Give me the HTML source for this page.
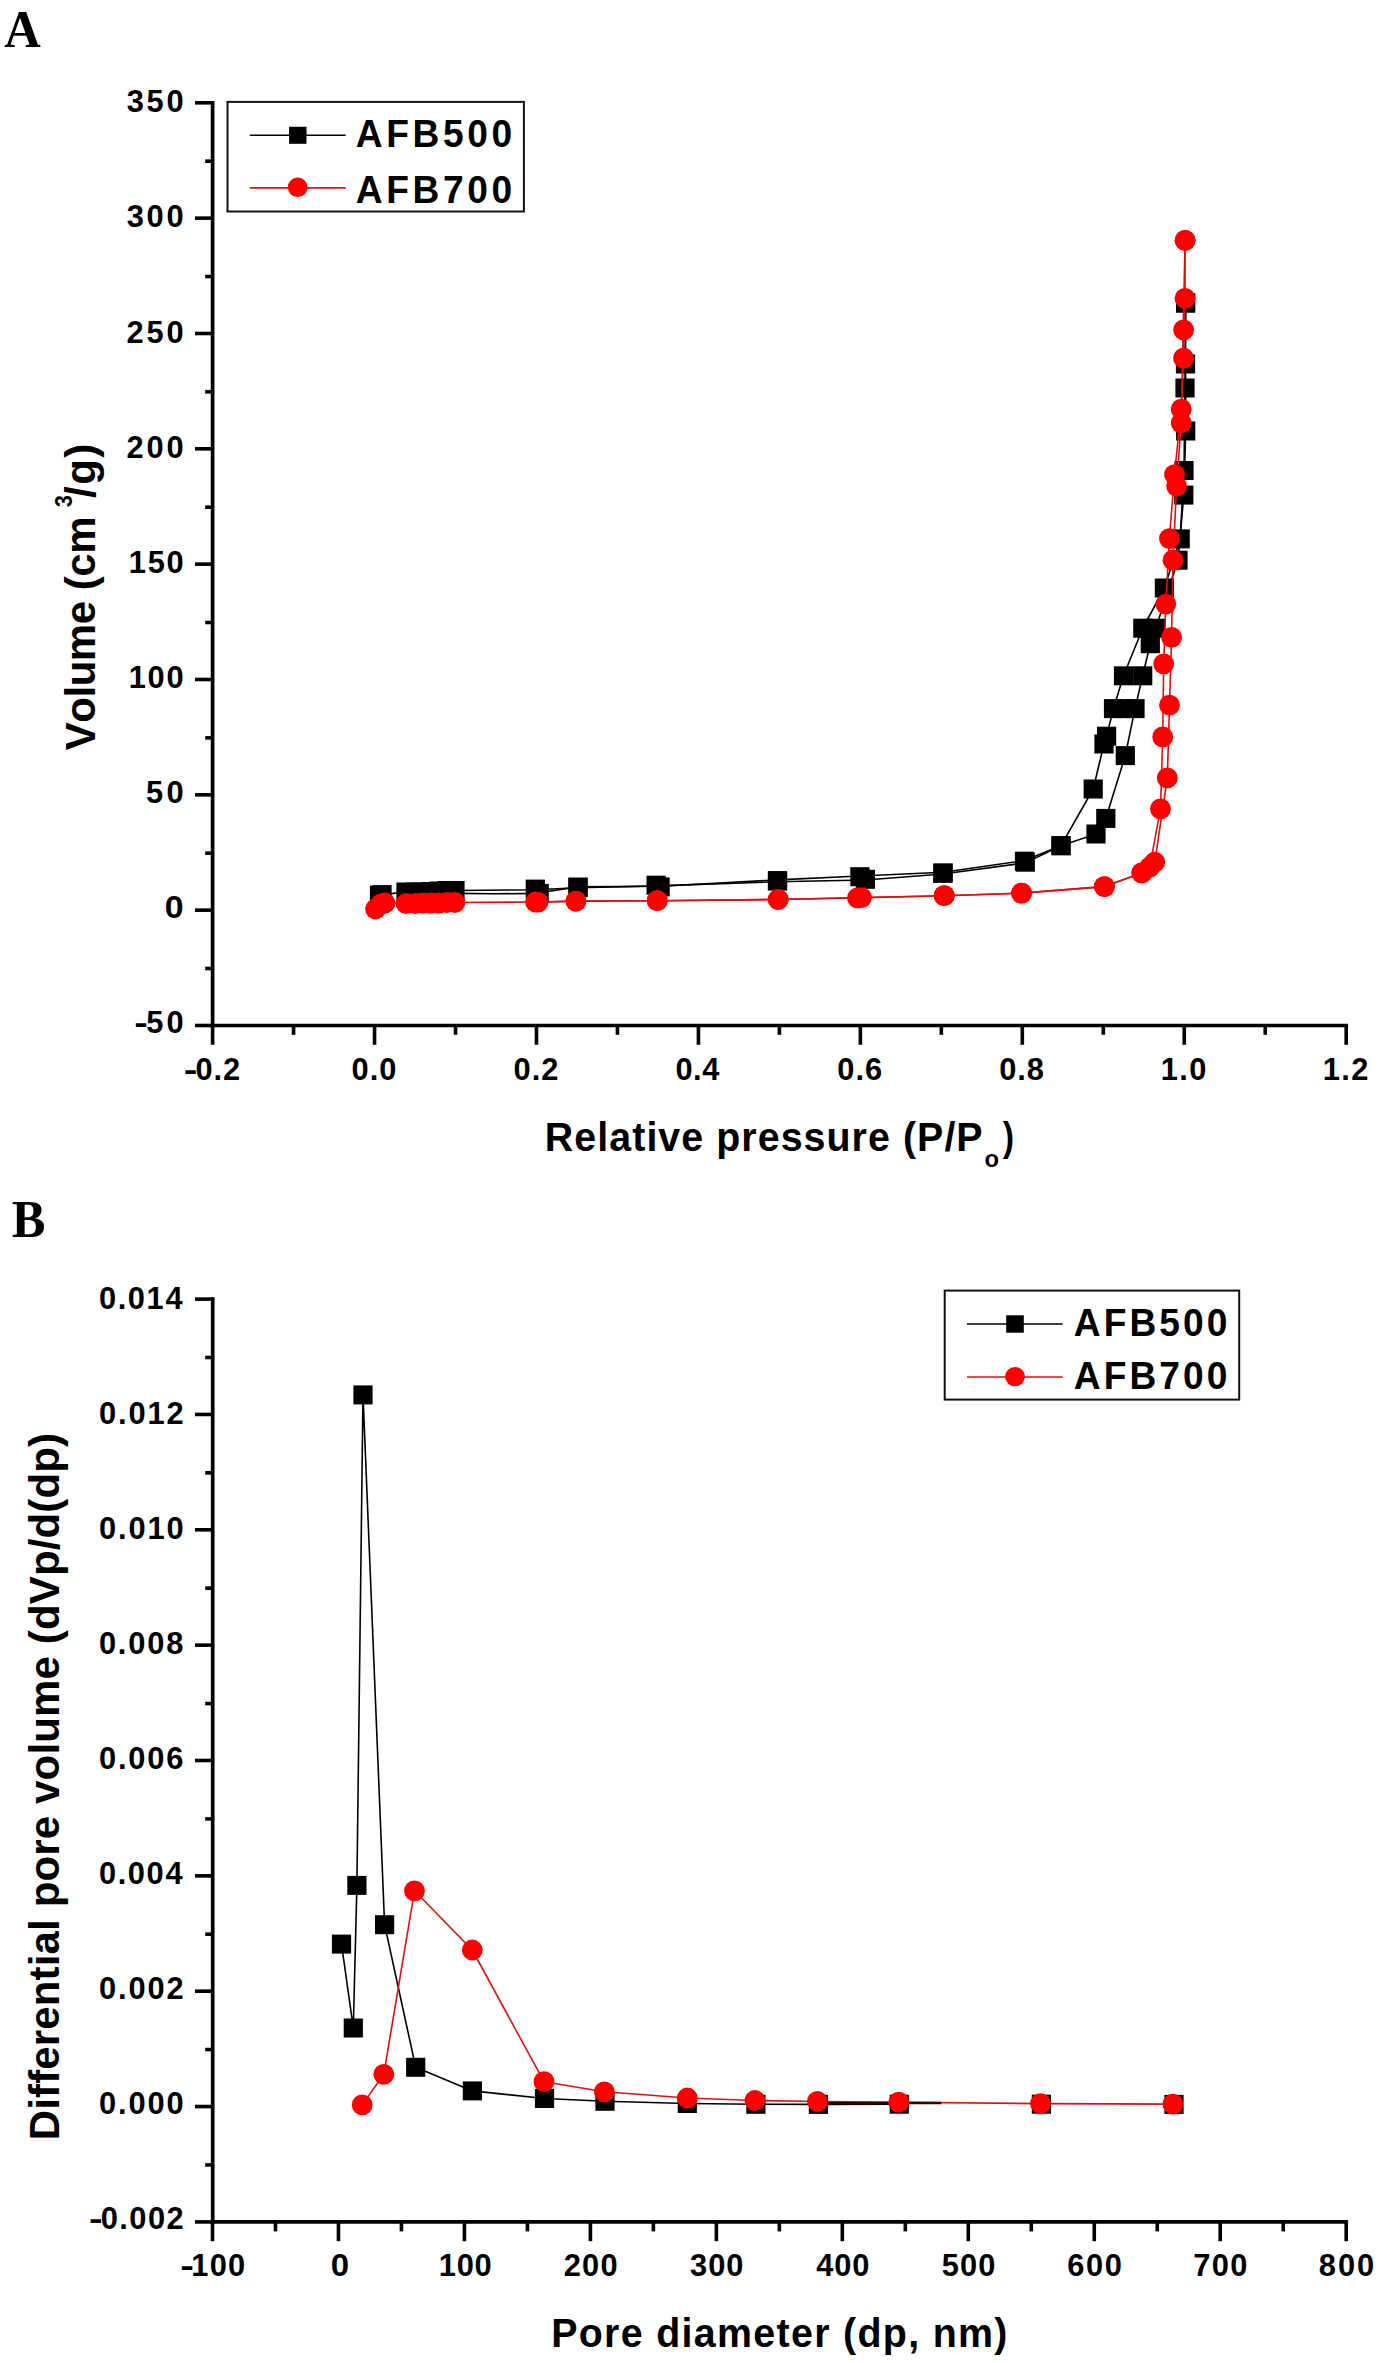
<!DOCTYPE html>
<html><head><meta charset="utf-8"><title>Figure</title>
<style>
html,body{margin:0;padding:0;background:#fff;overflow:hidden;}
svg{display:block;}
text{font-kerning:none;white-space:pre;}
</style></head>
<body>
<svg width="1389" height="2363" viewBox="0 0 1389 2363" font-family="Liberation Sans, sans-serif">
<rect x="0" y="0" width="1389" height="2363" fill="#fff"/>
<line x1="212.60" y1="100.95" x2="212.60" y2="1027.35" stroke="#000" stroke-width="3.7" stroke-linecap="butt"/>
<line x1="210.75" y1="1025.50" x2="1348.05" y2="1025.50" stroke="#000" stroke-width="3.7" stroke-linecap="butt"/>
<line x1="195.00" y1="102.80" x2="212.60" y2="102.80" stroke="#000" stroke-width="3.6" stroke-linecap="butt"/>
<line x1="205.20" y1="161.17" x2="212.60" y2="161.17" stroke="#000" stroke-width="3.6" stroke-linecap="butt"/>
<line x1="195.00" y1="218.14" x2="212.60" y2="218.14" stroke="#000" stroke-width="3.6" stroke-linecap="butt"/>
<line x1="205.20" y1="276.51" x2="212.60" y2="276.51" stroke="#000" stroke-width="3.6" stroke-linecap="butt"/>
<line x1="195.00" y1="333.48" x2="212.60" y2="333.48" stroke="#000" stroke-width="3.6" stroke-linecap="butt"/>
<line x1="205.20" y1="391.84" x2="212.60" y2="391.84" stroke="#000" stroke-width="3.6" stroke-linecap="butt"/>
<line x1="195.00" y1="448.81" x2="212.60" y2="448.81" stroke="#000" stroke-width="3.6" stroke-linecap="butt"/>
<line x1="205.20" y1="507.18" x2="212.60" y2="507.18" stroke="#000" stroke-width="3.6" stroke-linecap="butt"/>
<line x1="195.00" y1="564.15" x2="212.60" y2="564.15" stroke="#000" stroke-width="3.6" stroke-linecap="butt"/>
<line x1="205.20" y1="622.52" x2="212.60" y2="622.52" stroke="#000" stroke-width="3.6" stroke-linecap="butt"/>
<line x1="195.00" y1="679.49" x2="212.60" y2="679.49" stroke="#000" stroke-width="3.6" stroke-linecap="butt"/>
<line x1="205.20" y1="737.86" x2="212.60" y2="737.86" stroke="#000" stroke-width="3.6" stroke-linecap="butt"/>
<line x1="195.00" y1="794.83" x2="212.60" y2="794.83" stroke="#000" stroke-width="3.6" stroke-linecap="butt"/>
<line x1="205.20" y1="853.19" x2="212.60" y2="853.19" stroke="#000" stroke-width="3.6" stroke-linecap="butt"/>
<line x1="195.00" y1="910.16" x2="212.60" y2="910.16" stroke="#000" stroke-width="3.6" stroke-linecap="butt"/>
<line x1="205.20" y1="968.53" x2="212.60" y2="968.53" stroke="#000" stroke-width="3.6" stroke-linecap="butt"/>
<line x1="195.00" y1="1025.50" x2="212.60" y2="1025.50" stroke="#000" stroke-width="3.6" stroke-linecap="butt"/>
<line x1="212.60" y1="1025.50" x2="212.60" y2="1044.80" stroke="#000" stroke-width="3.6" stroke-linecap="butt"/>
<line x1="293.57" y1="1025.50" x2="293.57" y2="1034.80" stroke="#000" stroke-width="3.6" stroke-linecap="butt"/>
<line x1="374.54" y1="1025.50" x2="374.54" y2="1044.80" stroke="#000" stroke-width="3.6" stroke-linecap="butt"/>
<line x1="455.51" y1="1025.50" x2="455.51" y2="1034.80" stroke="#000" stroke-width="3.6" stroke-linecap="butt"/>
<line x1="536.49" y1="1025.50" x2="536.49" y2="1044.80" stroke="#000" stroke-width="3.6" stroke-linecap="butt"/>
<line x1="617.46" y1="1025.50" x2="617.46" y2="1034.80" stroke="#000" stroke-width="3.6" stroke-linecap="butt"/>
<line x1="698.43" y1="1025.50" x2="698.43" y2="1044.80" stroke="#000" stroke-width="3.6" stroke-linecap="butt"/>
<line x1="779.40" y1="1025.50" x2="779.40" y2="1034.80" stroke="#000" stroke-width="3.6" stroke-linecap="butt"/>
<line x1="860.37" y1="1025.50" x2="860.37" y2="1044.80" stroke="#000" stroke-width="3.6" stroke-linecap="butt"/>
<line x1="941.34" y1="1025.50" x2="941.34" y2="1034.80" stroke="#000" stroke-width="3.6" stroke-linecap="butt"/>
<line x1="1022.31" y1="1025.50" x2="1022.31" y2="1044.80" stroke="#000" stroke-width="3.6" stroke-linecap="butt"/>
<line x1="1103.29" y1="1025.50" x2="1103.29" y2="1034.80" stroke="#000" stroke-width="3.6" stroke-linecap="butt"/>
<line x1="1184.26" y1="1025.50" x2="1184.26" y2="1044.80" stroke="#000" stroke-width="3.6" stroke-linecap="butt"/>
<line x1="1265.23" y1="1025.50" x2="1265.23" y2="1034.80" stroke="#000" stroke-width="3.6" stroke-linecap="butt"/>
<line x1="1346.20" y1="1025.50" x2="1346.20" y2="1044.80" stroke="#000" stroke-width="3.6" stroke-linecap="butt"/>
<text transform="translate(126.79,112.30) scale(0.9700,1)" font-family="Liberation Sans" font-weight="bold" font-size="31.8" letter-spacing="2.736" fill="#000">350</text>
<text transform="translate(126.79,227.40) scale(0.9700,1)" font-family="Liberation Sans" font-weight="bold" font-size="31.8" letter-spacing="2.736" fill="#000">300</text>
<text transform="translate(126.53,342.50) scale(0.9700,1)" font-family="Liberation Sans" font-weight="bold" font-size="31.8" letter-spacing="2.871" fill="#000">250</text>
<text transform="translate(126.53,457.60) scale(0.9700,1)" font-family="Liberation Sans" font-weight="bold" font-size="31.8" letter-spacing="2.871" fill="#000">200</text>
<text transform="translate(128.86,572.70) scale(0.9700,1)" font-family="Liberation Sans" font-weight="bold" font-size="31.8" letter-spacing="1.672" fill="#000">150</text>
<text transform="translate(128.66,687.80) scale(0.9700,1)" font-family="Liberation Sans" font-weight="bold" font-size="31.8" letter-spacing="1.775" fill="#000">100</text>
<text transform="translate(145.95,802.90) scale(0.9700,1)" font-family="Liberation Sans" font-weight="bold" font-size="31.8" letter-spacing="3.406" fill="#000">50</text>
<text transform="translate(164.86,918.00) scale(1.0646,1)" font-family="Liberation Sans" font-weight="bold" font-size="31.8" letter-spacing="0.000" fill="#000">0</text>
<text transform="translate(134.20,1033.10) scale(1.2881,1)" font-family="Liberation Sans" font-weight="bold" font-size="31.8" letter-spacing="0.000" fill="#000">-</text>
<text transform="translate(146.25,1033.10) scale(0.9700,1)" font-family="Liberation Sans" font-weight="bold" font-size="31.8" letter-spacing="3.097" fill="#000">50</text>
<text transform="translate(183.70,1080.30) scale(1.2881,1)" font-family="Liberation Sans" font-weight="bold" font-size="31.8" letter-spacing="0.000" fill="#000">-</text>
<text transform="translate(195.48,1080.30) scale(0.9700,1)" font-family="Liberation Sans" font-weight="bold" font-size="31.8" letter-spacing="0.915" fill="#000">0.2</text>
<text transform="translate(351.52,1080.30) scale(0.9700,1)" font-family="Liberation Sans" font-weight="bold" font-size="31.8" letter-spacing="1.085" fill="#000">0.0</text>
<text transform="translate(513.47,1080.30) scale(0.9700,1)" font-family="Liberation Sans" font-weight="bold" font-size="31.8" letter-spacing="1.070" fill="#000">0.2</text>
<text transform="translate(675.41,1080.30) scale(0.9700,1)" font-family="Liberation Sans" font-weight="bold" font-size="31.8" letter-spacing="0.518" fill="#000">0.4</text>
<text transform="translate(837.35,1080.30) scale(0.9700,1)" font-family="Liberation Sans" font-weight="bold" font-size="31.8" letter-spacing="1.007" fill="#000">0.6</text>
<text transform="translate(999.29,1080.30) scale(0.9700,1)" font-family="Liberation Sans" font-weight="bold" font-size="31.8" letter-spacing="0.922" fill="#000">0.8</text>
<text transform="translate(1160.71,1080.30) scale(0.9700,1)" font-family="Liberation Sans" font-weight="bold" font-size="31.8" letter-spacing="1.509" fill="#000">1.0</text>
<text transform="translate(1322.66,1080.30) scale(0.9700,1)" font-family="Liberation Sans" font-weight="bold" font-size="31.8" letter-spacing="1.494" fill="#000">1.2</text>
<text transform="translate(544.87,1150.90) scale(0.9700,1)" font-family="Liberation Sans" font-weight="bold" font-size="40.6" letter-spacing="1.079" fill="#000">Relative pressure (P/P</text>
<text transform="translate(984.47,1167.20) scale(0.9933,1)" font-family="Liberation Sans" font-weight="bold" font-size="24" letter-spacing="0.000" fill="#000">o</text>
<text transform="translate(1002.67,1150.90) scale(0.8378,1)" font-family="Liberation Sans" font-weight="bold" font-size="40.6" letter-spacing="0.000" fill="#000">)</text>
<text transform="translate(95.40,749.90) rotate(-90) translate(-0.29,0) scale(0.9800,1)" font-family="Liberation Sans" font-weight="bold" font-size="42.8" letter-spacing="-0.459" fill="#000">Volume (cm</text>
<text transform="translate(72.00,506.60) rotate(-90) translate(-0.49,0) scale(0.8885,1)" font-family="Liberation Sans" font-weight="bold" font-size="24" letter-spacing="0.000" fill="#000">3</text>
<text transform="translate(95.40,497.60) rotate(-90) translate(-0.41,0) scale(0.9800,1)" font-family="Liberation Sans" font-weight="bold" font-size="42.8" letter-spacing="1.559" fill="#000">/g)</text>
<text transform="translate(4.26,47.10) scale(0.9631,1)" font-family="Liberation Serif" font-weight="bold" font-size="52.5" letter-spacing="0.000" fill="#000">A</text>
<rect x="227.5" y="101.9" width="296.4" height="109.6" fill="#fff" stroke="#111" stroke-width="2.0"/>
<line x1="249.80" y1="135.30" x2="345.60" y2="135.30" stroke="#000" stroke-width="1.6" stroke-linecap="butt"/>
<line x1="249.80" y1="187.90" x2="345.60" y2="187.90" stroke="#e01010" stroke-width="1.6" stroke-linecap="butt"/>
<rect x="289.1" y="126.8" width="17.4" height="17.0" fill="#000"/>
<ellipse cx="297.7" cy="187.3" rx="9.9" ry="9.7" fill="#fe0000"/>
<text transform="translate(355.78,147.30) scale(0.9400,1)" font-family="Liberation Sans" font-weight="bold" font-size="39.5" letter-spacing="3.849" fill="#000">AFB500</text>
<text transform="translate(355.78,202.60) scale(0.9400,1)" font-family="Liberation Sans" font-weight="bold" font-size="39.5" letter-spacing="3.849" fill="#000">AFB700</text>
<polyline points="379.5,895.2 382.0,894.6 406.0,892.0 415.0,892.0 423.0,892.0 431.0,891.5 439.0,891.0 447.0,890.5 455.0,890.5 535.3,889.8 578.0,887.7 656.1,885.9 777.5,881.8 865.4,880.0 942.8,874.0 1025.3,862.9 1061.0,845.7 1096.0,834.0 1105.8,818.4 1125.3,755.6 1135.0,708.6 1142.7,675.8 1150.3,643.7 1155.8,628.2 1178.0,560.2 1183.8,495.1 1185.7,431.0 1185.5,364.0 1185.6,303.0" fill="none" stroke="#000" stroke-width="1.6" stroke-linejoin="round"/>
<polyline points="1185.6,303.0 1185.0,388.0 1184.0,470.5 1180.2,538.9 1164.4,588.0 1142.8,628.2 1123.5,675.8 1113.5,708.6 1106.6,736.2 1104.0,744.0 1093.2,789.0 1061.0,845.7 1024.5,860.5 943.2,872.2 859.9,876.0 777.5,879.9 660.1,886.2 578.0,886.9 539.2,892.7" fill="none" stroke="#000" stroke-width="1.6" stroke-linejoin="round"/>
<polyline points="539.2,893.4 494.0,893.8 455.0,893.4" fill="none" stroke="#000" stroke-width="1.6" stroke-linejoin="round"/>
<rect x="369.9" y="885.7" width="19.2" height="19.0" fill="#000"/>
<rect x="372.4" y="885.1" width="19.2" height="19.0" fill="#000"/>
<rect x="396.4" y="882.5" width="19.2" height="19.0" fill="#000"/>
<rect x="405.4" y="882.5" width="19.2" height="19.0" fill="#000"/>
<rect x="413.4" y="882.5" width="19.2" height="19.0" fill="#000"/>
<rect x="421.4" y="882.0" width="19.2" height="19.0" fill="#000"/>
<rect x="429.4" y="881.5" width="19.2" height="19.0" fill="#000"/>
<rect x="437.4" y="881.0" width="19.2" height="19.0" fill="#000"/>
<rect x="445.4" y="881.0" width="19.2" height="19.0" fill="#000"/>
<rect x="525.7" y="879.6" width="19.2" height="19.0" fill="#000"/>
<rect x="568.4" y="877.5" width="19.2" height="19.0" fill="#000"/>
<rect x="646.5" y="875.7" width="19.2" height="19.0" fill="#000"/>
<rect x="767.9" y="871.6" width="19.2" height="19.0" fill="#000"/>
<rect x="855.8" y="869.8" width="19.2" height="19.0" fill="#000"/>
<rect x="933.2" y="863.8" width="19.2" height="19.0" fill="#000"/>
<rect x="1015.7" y="852.7" width="19.2" height="19.0" fill="#000"/>
<rect x="1051.4" y="836.2" width="19.2" height="19.0" fill="#000"/>
<rect x="1086.4" y="824.5" width="19.2" height="19.0" fill="#000"/>
<rect x="1096.2" y="808.9" width="19.2" height="19.0" fill="#000"/>
<rect x="1115.7" y="746.1" width="19.2" height="19.0" fill="#000"/>
<rect x="1125.4" y="699.1" width="19.2" height="19.0" fill="#000"/>
<rect x="1133.1" y="666.3" width="19.2" height="19.0" fill="#000"/>
<rect x="1140.7" y="634.2" width="19.2" height="19.0" fill="#000"/>
<rect x="1146.2" y="618.7" width="19.2" height="19.0" fill="#000"/>
<rect x="1168.4" y="550.7" width="19.2" height="19.0" fill="#000"/>
<rect x="1174.2" y="485.6" width="19.2" height="19.0" fill="#000"/>
<rect x="1176.1" y="421.5" width="19.2" height="19.0" fill="#000"/>
<rect x="1175.9" y="354.5" width="19.2" height="19.0" fill="#000"/>
<rect x="1176.0" y="293.5" width="19.2" height="19.0" fill="#000"/>
<rect x="1176.0" y="293.5" width="19.2" height="19.0" fill="#000"/>
<rect x="1175.4" y="378.5" width="19.2" height="19.0" fill="#000"/>
<rect x="1174.4" y="461.0" width="19.2" height="19.0" fill="#000"/>
<rect x="1170.6" y="529.4" width="19.2" height="19.0" fill="#000"/>
<rect x="1154.8" y="578.5" width="19.2" height="19.0" fill="#000"/>
<rect x="1133.2" y="618.7" width="19.2" height="19.0" fill="#000"/>
<rect x="1113.9" y="666.3" width="19.2" height="19.0" fill="#000"/>
<rect x="1103.9" y="699.1" width="19.2" height="19.0" fill="#000"/>
<rect x="1097.0" y="726.7" width="19.2" height="19.0" fill="#000"/>
<rect x="1094.4" y="734.5" width="19.2" height="19.0" fill="#000"/>
<rect x="1083.6" y="779.5" width="19.2" height="19.0" fill="#000"/>
<rect x="1051.4" y="836.2" width="19.2" height="19.0" fill="#000"/>
<rect x="1014.9" y="851.7" width="19.2" height="19.0" fill="#000"/>
<rect x="933.6" y="863.4" width="19.2" height="19.0" fill="#000"/>
<rect x="850.3" y="867.2" width="19.2" height="19.0" fill="#000"/>
<rect x="767.9" y="871.1" width="19.2" height="19.0" fill="#000"/>
<rect x="650.5" y="877.4" width="19.2" height="19.0" fill="#000"/>
<rect x="568.4" y="878.1" width="19.2" height="19.0" fill="#000"/>
<rect x="529.6" y="883.9" width="19.2" height="19.0" fill="#000"/>
<rect x="1114.7" y="699.1" width="19.2" height="19.0" fill="#000"/>
<polyline points="375.5,909.0 381.0,904.0 385.0,903.0 406.0,903.5 415.0,903.5 423.0,903.0 431.0,903.0 439.0,903.0 447.0,902.5 455.0,902.5 535.5,902.0 575.9,901.1 657.2,900.7 778.2,899.5 857.5,897.8 944.2,895.7 1021.6,893.1 1104.4,886.6 1141.8,872.9 1154.8,862.1 1167.3,777.9 1169.5,705.2 1171.6,637.3 1173.0,560.2 1176.6,486.1 1181.2,422.8 1185.1,240.3" fill="none" stroke="#e01010" stroke-width="1.6" stroke-linejoin="round"/>
<polyline points="1185.1,240.3 1185.0,298.4 1183.6,329.8 1183.5,358.2 1181.2,409.2 1174.5,474.6 1169.4,538.6 1165.8,604.1 1163.7,663.9 1162.7,736.9 1160.5,808.9 1149.7,867.2 1141.8,872.9 1104.4,886.6 1021.6,893.1 944.2,895.7 861.5,897.6 778.2,899.5 657.2,900.7 575.9,901.1 538.0,902.2" fill="none" stroke="#e01010" stroke-width="1.6" stroke-linejoin="round"/>
<ellipse cx="375.5" cy="909.0" rx="10.4" ry="10.4" fill="#fe0000"/>
<ellipse cx="381.0" cy="904.0" rx="10.4" ry="10.4" fill="#fe0000"/>
<ellipse cx="385.0" cy="903.0" rx="10.4" ry="10.4" fill="#fe0000"/>
<ellipse cx="406.0" cy="903.5" rx="10.4" ry="10.4" fill="#fe0000"/>
<ellipse cx="415.0" cy="903.5" rx="10.4" ry="10.4" fill="#fe0000"/>
<ellipse cx="423.0" cy="903.0" rx="10.4" ry="10.4" fill="#fe0000"/>
<ellipse cx="431.0" cy="903.0" rx="10.4" ry="10.4" fill="#fe0000"/>
<ellipse cx="439.0" cy="903.0" rx="10.4" ry="10.4" fill="#fe0000"/>
<ellipse cx="447.0" cy="902.5" rx="10.4" ry="10.4" fill="#fe0000"/>
<ellipse cx="455.0" cy="902.5" rx="10.4" ry="10.4" fill="#fe0000"/>
<ellipse cx="535.5" cy="902.0" rx="10.4" ry="10.4" fill="#fe0000"/>
<ellipse cx="575.9" cy="901.1" rx="10.4" ry="10.4" fill="#fe0000"/>
<ellipse cx="657.2" cy="900.7" rx="10.4" ry="10.4" fill="#fe0000"/>
<ellipse cx="778.2" cy="899.5" rx="10.4" ry="10.4" fill="#fe0000"/>
<ellipse cx="857.5" cy="897.8" rx="10.4" ry="10.4" fill="#fe0000"/>
<ellipse cx="944.2" cy="895.7" rx="10.4" ry="10.4" fill="#fe0000"/>
<ellipse cx="1021.6" cy="893.1" rx="10.4" ry="10.4" fill="#fe0000"/>
<ellipse cx="1104.4" cy="886.6" rx="10.4" ry="10.4" fill="#fe0000"/>
<ellipse cx="1141.8" cy="872.9" rx="10.4" ry="10.4" fill="#fe0000"/>
<ellipse cx="1154.8" cy="862.1" rx="10.4" ry="10.4" fill="#fe0000"/>
<ellipse cx="1167.3" cy="777.9" rx="10.4" ry="10.4" fill="#fe0000"/>
<ellipse cx="1169.5" cy="705.2" rx="10.4" ry="10.4" fill="#fe0000"/>
<ellipse cx="1171.6" cy="637.3" rx="10.4" ry="10.4" fill="#fe0000"/>
<ellipse cx="1173.0" cy="560.2" rx="10.4" ry="10.4" fill="#fe0000"/>
<ellipse cx="1176.6" cy="486.1" rx="10.4" ry="10.4" fill="#fe0000"/>
<ellipse cx="1181.2" cy="422.8" rx="10.4" ry="10.4" fill="#fe0000"/>
<ellipse cx="1185.1" cy="240.3" rx="10.4" ry="10.4" fill="#fe0000"/>
<ellipse cx="1185.1" cy="240.3" rx="10.4" ry="10.4" fill="#fe0000"/>
<ellipse cx="1185.0" cy="298.4" rx="10.4" ry="10.4" fill="#fe0000"/>
<ellipse cx="1183.6" cy="329.8" rx="10.4" ry="10.4" fill="#fe0000"/>
<ellipse cx="1183.5" cy="358.2" rx="10.4" ry="10.4" fill="#fe0000"/>
<ellipse cx="1181.2" cy="409.2" rx="10.4" ry="10.4" fill="#fe0000"/>
<ellipse cx="1174.5" cy="474.6" rx="10.4" ry="10.4" fill="#fe0000"/>
<ellipse cx="1169.4" cy="538.6" rx="10.4" ry="10.4" fill="#fe0000"/>
<ellipse cx="1165.8" cy="604.1" rx="10.4" ry="10.4" fill="#fe0000"/>
<ellipse cx="1163.7" cy="663.9" rx="10.4" ry="10.4" fill="#fe0000"/>
<ellipse cx="1162.7" cy="736.9" rx="10.4" ry="10.4" fill="#fe0000"/>
<ellipse cx="1160.5" cy="808.9" rx="10.4" ry="10.4" fill="#fe0000"/>
<ellipse cx="1149.7" cy="867.2" rx="10.4" ry="10.4" fill="#fe0000"/>
<ellipse cx="1141.8" cy="872.9" rx="10.4" ry="10.4" fill="#fe0000"/>
<ellipse cx="1104.4" cy="886.6" rx="10.4" ry="10.4" fill="#fe0000"/>
<ellipse cx="1021.6" cy="893.1" rx="10.4" ry="10.4" fill="#fe0000"/>
<ellipse cx="944.2" cy="895.7" rx="10.4" ry="10.4" fill="#fe0000"/>
<ellipse cx="861.5" cy="897.6" rx="10.4" ry="10.4" fill="#fe0000"/>
<ellipse cx="778.2" cy="899.5" rx="10.4" ry="10.4" fill="#fe0000"/>
<ellipse cx="657.2" cy="900.7" rx="10.4" ry="10.4" fill="#fe0000"/>
<ellipse cx="575.9" cy="901.1" rx="10.4" ry="10.4" fill="#fe0000"/>
<ellipse cx="538.0" cy="902.2" rx="10.4" ry="10.4" fill="#fe0000"/>
<line x1="212.70" y1="1297.25" x2="212.70" y2="2223.75" stroke="#000" stroke-width="3.7" stroke-linecap="butt"/>
<line x1="210.85" y1="2221.90" x2="1348.05" y2="2221.90" stroke="#000" stroke-width="3.7" stroke-linecap="butt"/>
<line x1="195.00" y1="1299.10" x2="212.70" y2="1299.10" stroke="#000" stroke-width="3.6" stroke-linecap="butt"/>
<line x1="205.20" y1="1357.47" x2="212.70" y2="1357.47" stroke="#000" stroke-width="3.6" stroke-linecap="butt"/>
<line x1="195.00" y1="1414.45" x2="212.70" y2="1414.45" stroke="#000" stroke-width="3.6" stroke-linecap="butt"/>
<line x1="205.20" y1="1472.82" x2="212.70" y2="1472.82" stroke="#000" stroke-width="3.6" stroke-linecap="butt"/>
<line x1="195.00" y1="1529.80" x2="212.70" y2="1529.80" stroke="#000" stroke-width="3.6" stroke-linecap="butt"/>
<line x1="205.20" y1="1588.17" x2="212.70" y2="1588.17" stroke="#000" stroke-width="3.6" stroke-linecap="butt"/>
<line x1="195.00" y1="1645.15" x2="212.70" y2="1645.15" stroke="#000" stroke-width="3.6" stroke-linecap="butt"/>
<line x1="205.20" y1="1703.53" x2="212.70" y2="1703.53" stroke="#000" stroke-width="3.6" stroke-linecap="butt"/>
<line x1="195.00" y1="1760.50" x2="212.70" y2="1760.50" stroke="#000" stroke-width="3.6" stroke-linecap="butt"/>
<line x1="205.20" y1="1818.88" x2="212.70" y2="1818.88" stroke="#000" stroke-width="3.6" stroke-linecap="butt"/>
<line x1="195.00" y1="1875.85" x2="212.70" y2="1875.85" stroke="#000" stroke-width="3.6" stroke-linecap="butt"/>
<line x1="205.20" y1="1934.22" x2="212.70" y2="1934.22" stroke="#000" stroke-width="3.6" stroke-linecap="butt"/>
<line x1="195.00" y1="1991.20" x2="212.70" y2="1991.20" stroke="#000" stroke-width="3.6" stroke-linecap="butt"/>
<line x1="205.20" y1="2049.57" x2="212.70" y2="2049.57" stroke="#000" stroke-width="3.6" stroke-linecap="butt"/>
<line x1="195.00" y1="2106.55" x2="212.70" y2="2106.55" stroke="#000" stroke-width="3.6" stroke-linecap="butt"/>
<line x1="205.20" y1="2164.93" x2="212.70" y2="2164.93" stroke="#000" stroke-width="3.6" stroke-linecap="butt"/>
<line x1="195.00" y1="2221.90" x2="212.70" y2="2221.90" stroke="#000" stroke-width="3.6" stroke-linecap="butt"/>
<line x1="212.50" y1="2221.90" x2="212.50" y2="2241.20" stroke="#000" stroke-width="3.6" stroke-linecap="butt"/>
<line x1="275.48" y1="2221.90" x2="275.48" y2="2231.40" stroke="#000" stroke-width="3.6" stroke-linecap="butt"/>
<line x1="338.47" y1="2221.90" x2="338.47" y2="2241.20" stroke="#000" stroke-width="3.6" stroke-linecap="butt"/>
<line x1="401.45" y1="2221.90" x2="401.45" y2="2231.40" stroke="#000" stroke-width="3.6" stroke-linecap="butt"/>
<line x1="464.43" y1="2221.90" x2="464.43" y2="2241.20" stroke="#000" stroke-width="3.6" stroke-linecap="butt"/>
<line x1="527.42" y1="2221.90" x2="527.42" y2="2231.40" stroke="#000" stroke-width="3.6" stroke-linecap="butt"/>
<line x1="590.40" y1="2221.90" x2="590.40" y2="2241.20" stroke="#000" stroke-width="3.6" stroke-linecap="butt"/>
<line x1="653.38" y1="2221.90" x2="653.38" y2="2231.40" stroke="#000" stroke-width="3.6" stroke-linecap="butt"/>
<line x1="716.37" y1="2221.90" x2="716.37" y2="2241.20" stroke="#000" stroke-width="3.6" stroke-linecap="butt"/>
<line x1="779.35" y1="2221.90" x2="779.35" y2="2231.40" stroke="#000" stroke-width="3.6" stroke-linecap="butt"/>
<line x1="842.33" y1="2221.90" x2="842.33" y2="2241.20" stroke="#000" stroke-width="3.6" stroke-linecap="butt"/>
<line x1="905.32" y1="2221.90" x2="905.32" y2="2231.40" stroke="#000" stroke-width="3.6" stroke-linecap="butt"/>
<line x1="968.30" y1="2221.90" x2="968.30" y2="2241.20" stroke="#000" stroke-width="3.6" stroke-linecap="butt"/>
<line x1="1031.28" y1="2221.90" x2="1031.28" y2="2231.40" stroke="#000" stroke-width="3.6" stroke-linecap="butt"/>
<line x1="1094.27" y1="2221.90" x2="1094.27" y2="2241.20" stroke="#000" stroke-width="3.6" stroke-linecap="butt"/>
<line x1="1157.25" y1="2221.90" x2="1157.25" y2="2231.40" stroke="#000" stroke-width="3.6" stroke-linecap="butt"/>
<line x1="1220.23" y1="2221.90" x2="1220.23" y2="2241.20" stroke="#000" stroke-width="3.6" stroke-linecap="butt"/>
<line x1="1283.22" y1="2221.90" x2="1283.22" y2="2231.40" stroke="#000" stroke-width="3.6" stroke-linecap="butt"/>
<line x1="1346.20" y1="2221.90" x2="1346.20" y2="2241.20" stroke="#000" stroke-width="3.6" stroke-linecap="butt"/>
<text transform="translate(98.88,1308.80) scale(0.9700,1)" font-family="Liberation Sans" font-weight="bold" font-size="31.8" letter-spacing="1.674" fill="#000">0.014</text>
<text transform="translate(98.88,1423.84) scale(0.9700,1)" font-family="Liberation Sans" font-weight="bold" font-size="31.8" letter-spacing="1.950" fill="#000">0.012</text>
<text transform="translate(98.88,1538.88) scale(0.9700,1)" font-family="Liberation Sans" font-weight="bold" font-size="31.8" letter-spacing="1.957" fill="#000">0.010</text>
<text transform="translate(98.88,1653.92) scale(0.9700,1)" font-family="Liberation Sans" font-weight="bold" font-size="31.8" letter-spacing="1.876" fill="#000">0.008</text>
<text transform="translate(98.88,1768.96) scale(0.9700,1)" font-family="Liberation Sans" font-weight="bold" font-size="31.8" letter-spacing="1.919" fill="#000">0.006</text>
<text transform="translate(98.88,1884.00) scale(0.9700,1)" font-family="Liberation Sans" font-weight="bold" font-size="31.8" letter-spacing="1.674" fill="#000">0.004</text>
<text transform="translate(98.88,1999.04) scale(0.9700,1)" font-family="Liberation Sans" font-weight="bold" font-size="31.8" letter-spacing="1.950" fill="#000">0.002</text>
<text transform="translate(98.88,2114.08) scale(0.9700,1)" font-family="Liberation Sans" font-weight="bold" font-size="31.8" letter-spacing="1.957" fill="#000">0.000</text>
<text transform="translate(89.00,2229.12) scale(1.2881,1)" font-family="Liberation Sans" font-weight="bold" font-size="31.8" letter-spacing="0.000" fill="#000">-</text>
<text transform="translate(100.78,2229.12) scale(0.9700,1)" font-family="Liberation Sans" font-weight="bold" font-size="31.8" letter-spacing="1.460" fill="#000">0.002</text>
<text transform="translate(180.20,2276.40) scale(1.2881,1)" font-family="Liberation Sans" font-weight="bold" font-size="31.8" letter-spacing="0.000" fill="#000">-</text>
<text transform="translate(191.26,2276.40) scale(0.9700,1)" font-family="Liberation Sans" font-weight="bold" font-size="31.8" letter-spacing="1.311" fill="#000">100</text>
<text transform="translate(330.79,2276.40) scale(1.0381,1)" font-family="Liberation Sans" font-weight="bold" font-size="31.8" letter-spacing="0.000" fill="#000">0</text>
<text transform="translate(438.86,2276.40) scale(0.9700,1)" font-family="Liberation Sans" font-weight="bold" font-size="31.8" letter-spacing="0.641" fill="#000">100</text>
<text transform="translate(563.73,2276.40) scale(0.9700,1)" font-family="Liberation Sans" font-weight="bold" font-size="31.8" letter-spacing="1.221" fill="#000">200</text>
<text transform="translate(690.06,2276.40) scale(0.9700,1)" font-family="Liberation Sans" font-weight="bold" font-size="31.8" letter-spacing="1.035" fill="#000">300</text>
<text transform="translate(816.27,2276.40) scale(0.9700,1)" font-family="Liberation Sans" font-weight="bold" font-size="31.8" letter-spacing="0.911" fill="#000">400</text>
<text transform="translate(941.75,2276.40) scale(0.9700,1)" font-family="Liberation Sans" font-weight="bold" font-size="31.8" letter-spacing="1.159" fill="#000">500</text>
<text transform="translate(1067.14,2276.40) scale(0.9700,1)" font-family="Liberation Sans" font-weight="bold" font-size="31.8" letter-spacing="1.768" fill="#000">600</text>
<text transform="translate(1193.31,2276.40) scale(0.9700,1)" font-family="Liberation Sans" font-weight="bold" font-size="31.8" letter-spacing="1.353" fill="#000">700</text>
<text transform="translate(1318.82,2276.40) scale(0.9700,1)" font-family="Liberation Sans" font-weight="bold" font-size="31.8" letter-spacing="1.999" fill="#000">800</text>
<text transform="translate(551.17,2347.00) scale(0.9700,1)" font-family="Liberation Sans" font-weight="bold" font-size="40.6" letter-spacing="1.350" fill="#000">Pore diameter (dp, nm)</text>
<text transform="translate(58.50,2137.50) rotate(-90) translate(-2.81,0) scale(0.9800,1)" font-family="Liberation Sans" font-weight="bold" font-size="42.8" letter-spacing="0.185" fill="#000">Differential pore volume (dVp/d(dp)</text>
<text transform="translate(11.86,1236.70) scale(0.9638,1)" font-family="Liberation Serif" font-weight="bold" font-size="52.5" letter-spacing="0.000" fill="#000">B</text>
<rect x="944.7" y="1290.6" width="294.5" height="109.0" fill="#fff" stroke="#111" stroke-width="2.0"/>
<line x1="967.00" y1="1324.00" x2="1062.70" y2="1324.00" stroke="#000" stroke-width="1.6" stroke-linecap="butt"/>
<line x1="967.00" y1="1377.00" x2="1062.70" y2="1377.00" stroke="#e01010" stroke-width="1.6" stroke-linecap="butt"/>
<rect x="1006.2" y="1315.3" width="17.6" height="17.4" fill="#000"/>
<ellipse cx="1015" cy="1376.6" rx="9.9" ry="9.7" fill="#fe0000"/>
<text transform="translate(1073.78,1336.30) scale(0.9400,1)" font-family="Liberation Sans" font-weight="bold" font-size="39.5" letter-spacing="3.296" fill="#000">AFB500</text>
<text transform="translate(1073.78,1388.90) scale(0.9400,1)" font-family="Liberation Sans" font-weight="bold" font-size="39.5" letter-spacing="3.296" fill="#000">AFB700</text>
<polyline points="341.5,1944.1 353.3,2028.0 356.9,1885.4 363.0,1394.9 384.6,1924.7 415.7,2067.3 472.4,2090.9 544.5,2098.5 605.0,2101.3 687.3,2103.5 755.9,2104.3 818.4,2104.4 899.3,2104.2" fill="none" stroke="#000" stroke-width="1.6" stroke-linejoin="round"/>
<polyline points="362.2,2104.9 383.8,2074.3 414.5,1890.8 472.3,1950.0 544.0,2081.7 604.4,2091.8 687.3,2098.0 754.9,2100.5 817.4,2101.5 898.8,2102.2 1040.5,2103.6 1172.9,2104.1" fill="none" stroke="#e01010" stroke-width="1.6" stroke-linejoin="round"/>
<line x1="818.40" y1="2103.00" x2="941.50" y2="2103.00" stroke="#3a0000" stroke-width="2.6" stroke-linecap="butt"/>
<rect x="331.9" y="1934.6" width="19.2" height="19.0" fill="#000"/>
<rect x="343.7" y="2018.5" width="19.2" height="19.0" fill="#000"/>
<rect x="347.3" y="1875.9" width="19.2" height="19.0" fill="#000"/>
<rect x="353.4" y="1385.4" width="19.2" height="19.0" fill="#000"/>
<rect x="375.0" y="1915.2" width="19.2" height="19.0" fill="#000"/>
<rect x="406.1" y="2057.8" width="19.2" height="19.0" fill="#000"/>
<rect x="462.8" y="2081.4" width="19.2" height="19.0" fill="#000"/>
<rect x="534.9" y="2089.0" width="19.2" height="19.0" fill="#000"/>
<rect x="595.4" y="2091.8" width="19.2" height="19.0" fill="#000"/>
<rect x="677.7" y="2094.0" width="19.2" height="19.0" fill="#000"/>
<rect x="746.3" y="2094.8" width="19.2" height="19.0" fill="#000"/>
<rect x="808.8" y="2094.9" width="19.2" height="19.0" fill="#000"/>
<rect x="889.7" y="2094.7" width="19.2" height="19.0" fill="#000"/>
<rect x="1031.8" y="2094.7" width="19.2" height="19.0" fill="#000"/>
<rect x="1164.4" y="2094.9" width="19.2" height="19.0" fill="#000"/>
<ellipse cx="362.2" cy="2104.9" rx="10.4" ry="10.4" fill="#fe0000"/>
<ellipse cx="383.8" cy="2074.3" rx="10.4" ry="10.4" fill="#fe0000"/>
<ellipse cx="414.5" cy="1890.8" rx="10.4" ry="10.4" fill="#fe0000"/>
<ellipse cx="472.3" cy="1950.0" rx="10.4" ry="10.4" fill="#fe0000"/>
<ellipse cx="544.0" cy="2081.7" rx="10.4" ry="10.4" fill="#fe0000"/>
<ellipse cx="604.4" cy="2091.8" rx="10.4" ry="10.4" fill="#fe0000"/>
<ellipse cx="687.3" cy="2098.0" rx="10.4" ry="10.4" fill="#fe0000"/>
<ellipse cx="754.9" cy="2100.5" rx="10.4" ry="10.4" fill="#fe0000"/>
<ellipse cx="817.4" cy="2101.5" rx="10.4" ry="10.4" fill="#fe0000"/>
<ellipse cx="898.8" cy="2102.2" rx="10.4" ry="10.4" fill="#fe0000"/>
<ellipse cx="1040.5" cy="2103.6" rx="10.4" ry="10.4" fill="#fe0000"/>
<ellipse cx="1172.9" cy="2104.1" rx="10.4" ry="10.4" fill="#fe0000"/>
</svg>
</body></html>
